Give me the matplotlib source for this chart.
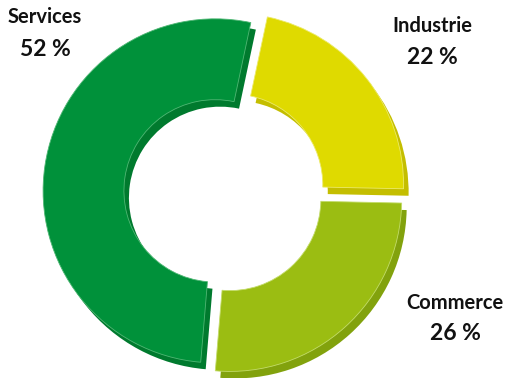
import matplotlib
matplotlib.use("Agg")
import matplotlib.pyplot as plt
import numpy as np

categories = ["Industrie", "Commerce", "Services"]
values = [22, 26, 52]
labels_pct = ["22 %", "26 %", "52 %"]
colors = ["#dfda00", "#9bbd12", "#00913a"]
side_colors = ["#c4be00", "#82a20d", "#007a2e"]
edge_colors = ["#ecea6a", "#c3dc6a", "#4fb774"]

W, H = 508, 378
fig = plt.figure(figsize=(W / 100, H / 100), dpi=100)
ax = fig.add_axes([0, 0, 1, 1])

cx, cy = 223, H - 192
R = 172
width = 0.47
explode = [11, 10, 8]

# side (3D thickness) layer
ax.pie(values, colors=side_colors, startangle=78, counterclock=False,
       radius=R, center=(cx + 5, cy - 7), explode=explode,
       wedgeprops=dict(width=R * width, edgecolor="none"), frame=True)
wedges, _ = ax.pie(values, colors=colors, startangle=78, counterclock=False,
                   radius=R, center=(cx, cy), explode=explode,
                   wedgeprops=dict(width=R * width, linewidth=0.6), frame=True)
for w, ec in zip(wedges, edge_colors):
    w.set_edgecolor(ec)
ax.set_xlim(0, W)
ax.set_ylim(0, H)
ax.set_aspect("equal")
ax.axis("off")

font = ["Lato", "DejaVu Sans"]
pos = {"Industrie": (432, 26, 58), "Commerce": (455, 303, 334), "Services": (45, 17, 50)}
for cat, pct in zip(categories, labels_pct):
    x, y1, y2 = pos[cat]
    ax.text(x, H - y1, cat, ha="center", va="center", fontsize=14.5,
            fontweight="bold", family=font, color="#111111")
    ax.text(x, H - y2, pct, ha="center", va="center", fontsize=16.5,
            fontweight="bold", family=font, color="#111111")

fig.savefig("out.png", dpi=100)
